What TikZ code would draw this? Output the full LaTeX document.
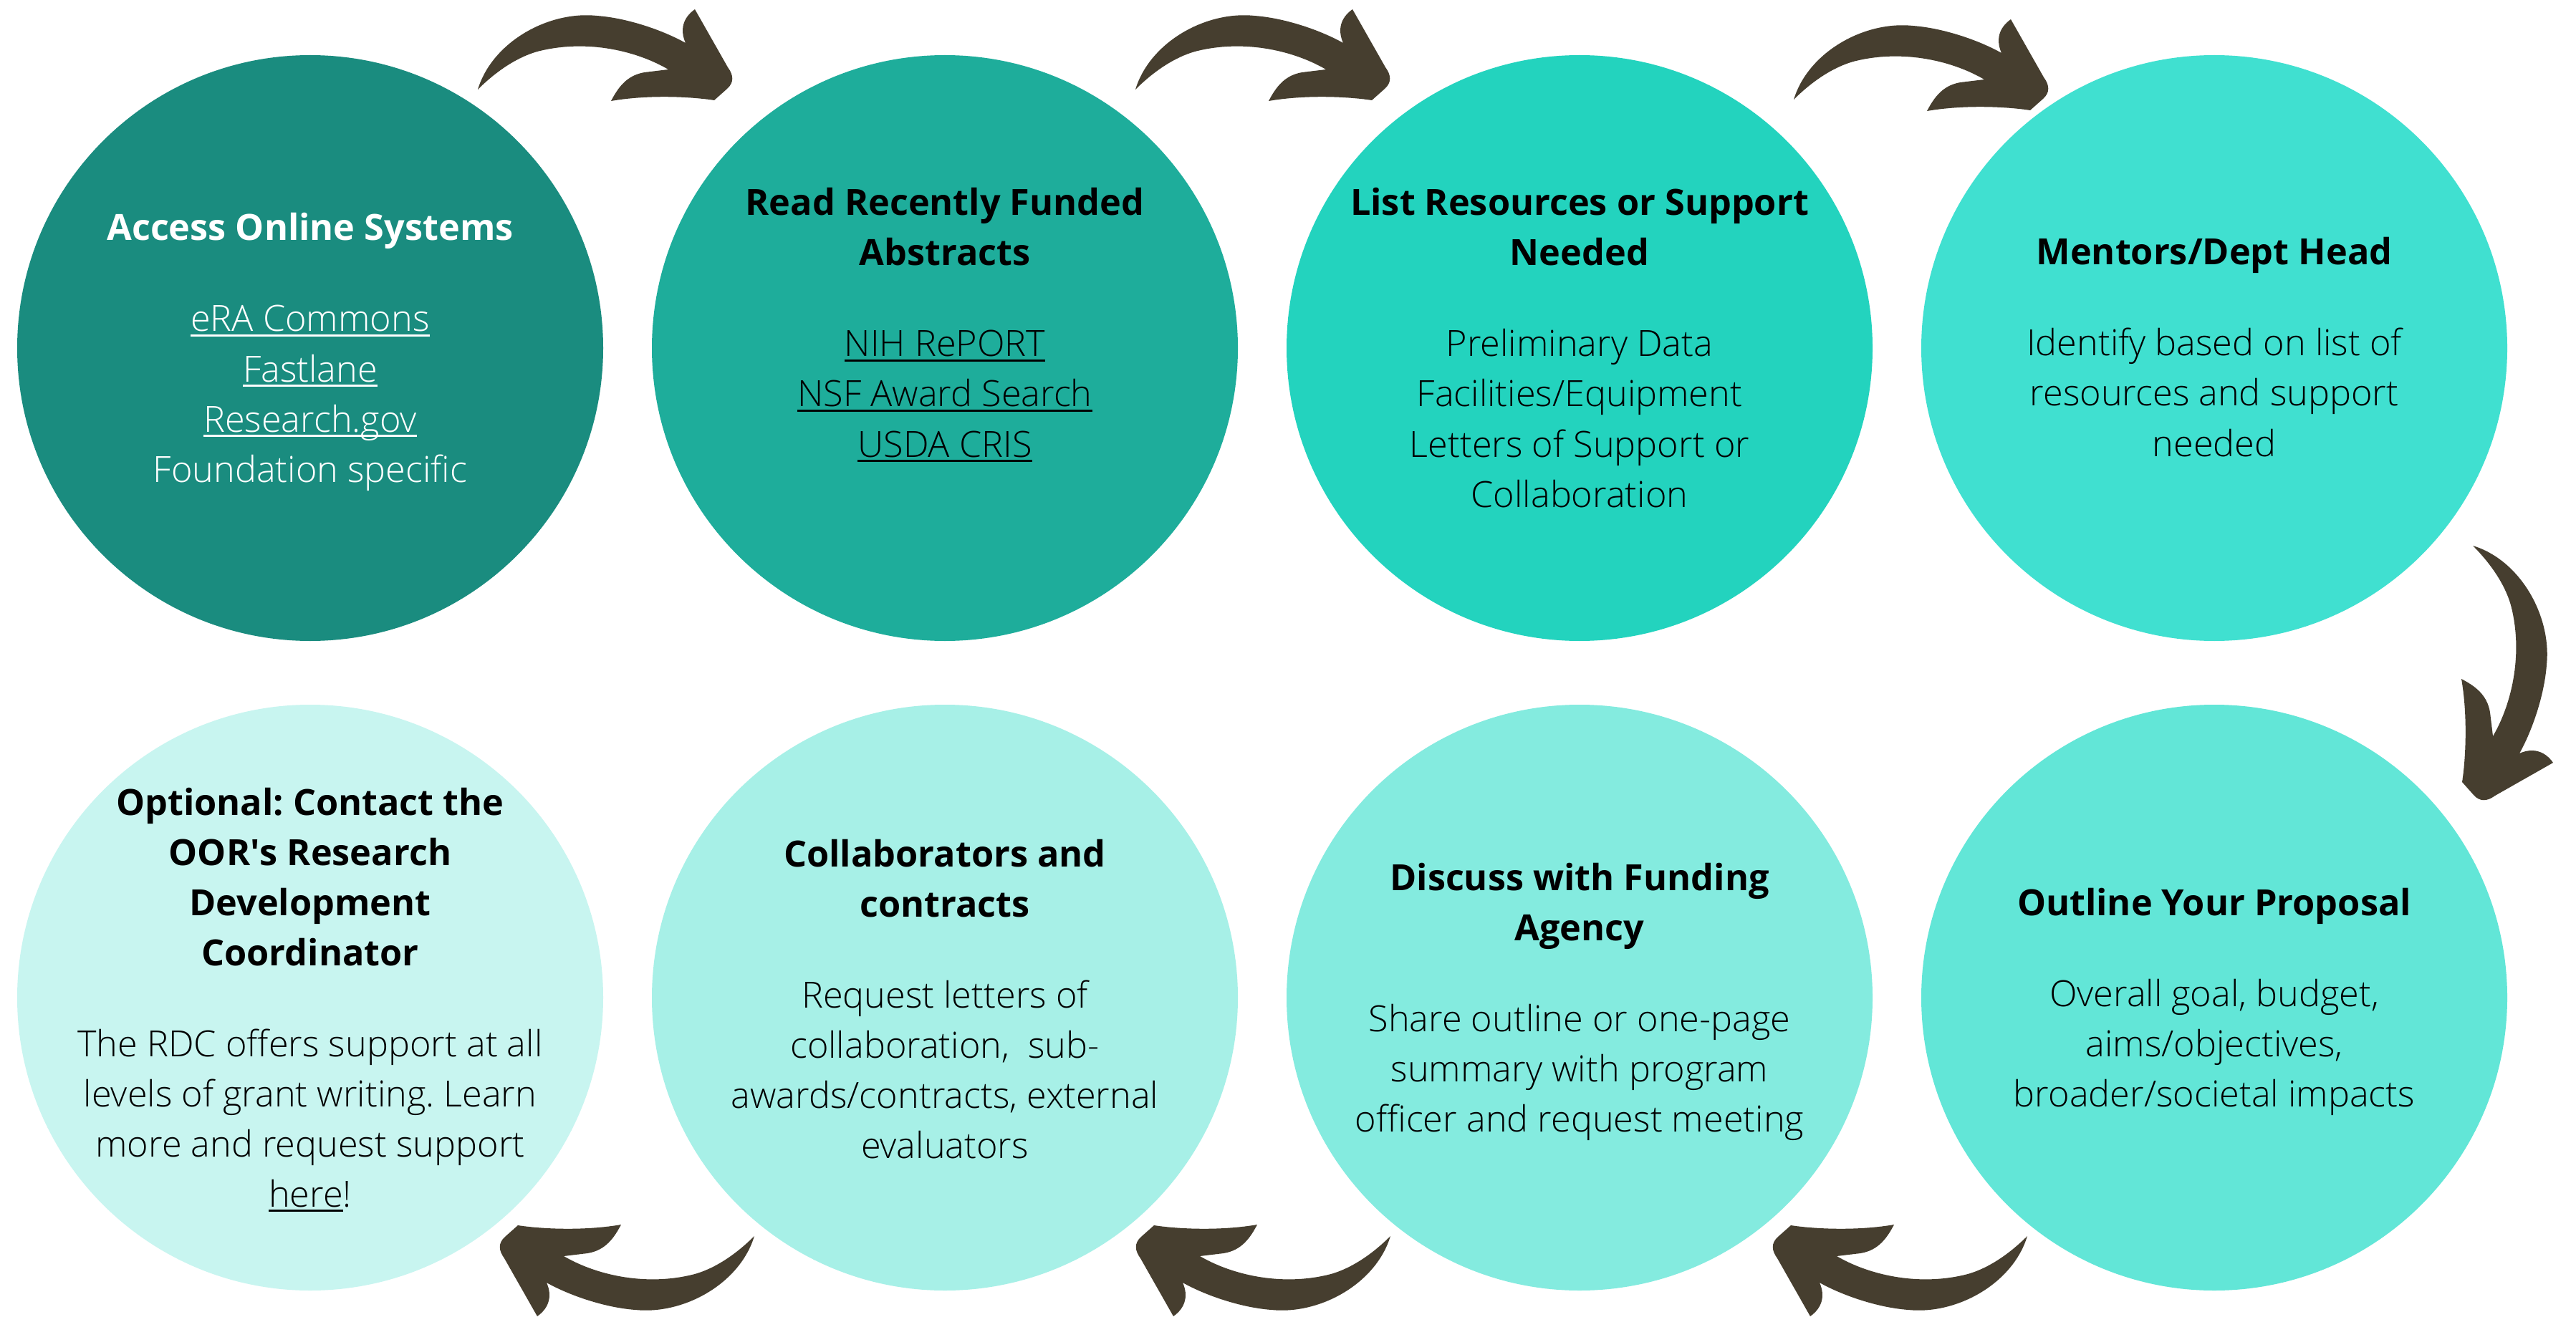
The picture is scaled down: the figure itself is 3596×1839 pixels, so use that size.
\documentclass[tikz,border=0pt]{standalone}
\usepackage{fontspec}
\setmainfont{Open Sans}
\newfontfamily\lightfont{Open Sans Light}
\frenchspacing

\definecolor{stepA}{HTML}{1A8C7F}
\definecolor{stepB}{HTML}{1EAD9B}
\definecolor{stepC}{HTML}{23D3BE}
\definecolor{stepD}{HTML}{40E0D0}
\definecolor{stepE}{HTML}{62E6D7}
\definecolor{stepF}{HTML}{84EBDF}
\definecolor{stepG}{HTML}{A7F0E7}
\definecolor{stepH}{HTML}{C8F5F0}
\definecolor{arrowbrown}{HTML}{463E2F}

% underlined link text
\newcommand\lnk[1]{\setbox0=\hbox{#1}\rlap{\rule[-1.7pt]{\wd0}{0.75pt}}\box0}

\tikzset{
  stepdisc/.style={circle, minimum size=204.5pt, inner sep=0pt, fill=#1},
  headline/.style={font=\fontsize{12.6}{17.5}\selectfont\bfseries, anchor=base, inner sep=0pt},
  bodyline/.style={font=\lightfont\fontsize{12.6}{17.5}\selectfont, anchor=base, inner sep=0pt},
  flowarrow/.pic={
    \fill[arrowbrown] (-178,48)
      .. controls (-158,-18) and (-80,-62) .. (-12,-55)
      .. controls (30,-52) and (80,-35) .. (112,-17)
      .. controls (104,-35) and (108,-52) .. (125,-64)
      -- (171,17)
      .. controls (179,28) and (180,38) .. (170,47)
      -- (152,63)
      .. controls (120,58) and (60,55) .. (8,64)
      .. controls (18,45) and (30,28) .. (55,24)
      -- (88,20)
      .. controls (40,-8) and (-30,-22) .. (-95,-5)
      .. controls (-130,5) and (-160,30) .. (-178,48) -- cycle;
  }
}

\begin{document}
\begin{tikzpicture}[x=0.25pt, y=-0.25pt]
\useasboundingbox (0,0) rectangle (3596,1839);
\fill[white] (0,0) rectangle (3596,1839);

% step discs
\node[stepdisc=stepA] (s1) at (433,486) {};
\node[stepdisc=stepB] (s2) at (1319,486) {};
\node[stepdisc=stepC] (s3) at (2205,486) {};
\node[stepdisc=stepD] (s4) at (3091,486) {};
\node[stepdisc=stepE] (s5) at (3091,1393) {};
\node[stepdisc=stepF] (s6) at (2205,1393) {};
\node[stepdisc=stepG] (s7) at (1319,1393) {};
\node[stepdisc=stepH] (s8) at (433,1393) {};

% hand-drawn arrows between the steps
\pic (a12) at (845,77) {flowarrow};
\pic (a23) at (1763,77) {flowarrow};
\pic (a34) at (2682,91) {flowarrow};
\pic[rotate=-90] (a45) at (3500,940) {flowarrow};
\pic[rotate=180] (a56) at (2652,1774) {flowarrow};
\pic[rotate=180] (a67) at (1763,1774) {flowarrow};
\pic[rotate=180] (a78) at (875,1774) {flowarrow};

% step 1
\foreach \ln [count=\i from 0] in {Access Online Systems}
  \node[headline, text=white] (s1h\i) at (433,336+\i*70) {\ln};
\foreach \ln [count=\i from 0] in {\lnk{eRA Commons}, \lnk{Fastlane}, \lnk{Research.gov}, Foundation specific}
  \node[bodyline, text=white] (s1b\i) at (433,463+\i*70) {\ln};

% step 2
\foreach \ln [count=\i from 0] in {Read Recently Funded, Abstracts}
  \node[headline] (s2h\i) at (1319,301+\i*70) {\ln};
\foreach \ln [count=\i from 0] in {\lnk{NIH RePORT}, \lnk{NSF Award Search}, \lnk{USDA CRIS}}
  \node[bodyline] (s2b\i) at (1319,498+\i*70) {\ln};

% step 3
\foreach \ln [count=\i from 0] in {List Resources or Support, Needed}
  \node[headline] (s3h\i) at (2205,301+\i*70) {\ln};
\foreach \ln [count=\i from 0] in {Preliminary Data, Facilities/Equipment, Letters of Support or, Collaboration}
  \node[bodyline] (s3b\i) at (2205,498+\i*70) {\ln};

% step 4
\foreach \ln [count=\i from 0] in {Mentors/Dept Head}
  \node[headline] (s4h\i) at (3091,370+\i*70) {\ln};
\foreach \ln [count=\i from 0] in {Identify based on list of, resources and support, needed}
  \node[bodyline] (s4b\i) at (3091,497+\i*70) {\ln};

% step 5
\foreach \ln [count=\i from 0] in {Outline Your Proposal}
  \node[headline] (s5h\i) at (3091,1278+\i*70) {\ln};
\foreach \ln [count=\i from 0] in {{Overall goal, budget,}, {aims/objectives,}, broader/societal impacts}
  \node[bodyline] (s5b\i) at (3091,1405+\i*70) {\ln};

% step 6
\foreach \ln [count=\i from 0] in {Discuss with Funding, Agency}
  \node[headline] (s6h\i) at (2205,1243+\i*70) {\ln};
\foreach \ln [count=\i from 0] in {Share outline or one-page, summary with program, officer and request meeting}
  \node[bodyline] (s6b\i) at (2205,1440+\i*70) {\ln};

% step 7
\foreach \ln [count=\i from 0] in {Collaborators and, contracts}
  \node[headline] (s7h\i) at (1319,1210+\i*70) {\ln};
\foreach \ln [count=\i from 0] in {Request letters of, {collaboration,~ sub-}, {awards/contracts, external}, evaluators}
  \node[bodyline] (s7b\i) at (1319,1407+\i*70) {\ln};

% step 8
\foreach \ln [count=\i from 0] in {Optional: Contact the, OOR\textquotesingle s Research, Development, Coordinator}
  \node[headline] (s8h\i) at (433,1138+\i*70) {\ln};
\foreach \ln [count=\i from 0] in {The RDC offers support at all, levels of grant writing. Learn, more and request support, {\lnk{here}!}}
  \node[bodyline] (s8b\i) at (433,1475+\i*70) {\ln};
\end{tikzpicture}
\end{document}
